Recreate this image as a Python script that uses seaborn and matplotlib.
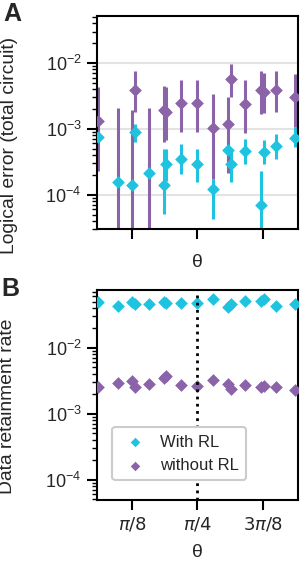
import numpy as np
import pandas as pd
import matplotlib
matplotlib.use("Agg")
import matplotlib.pyplot as plt
import seaborn as sns

# ---------------- data ----------------
theta = [0.193, 0.311, 0.394, 0.410, 0.499, 0.584, 0.596, 0.689, 0.785,
         0.878, 0.969, 0.983, 1.068, 1.164, 1.180, 1.255, 1.368]

# logical error, with RL (value, lower bound, upper bound)
err_rl = [7.5e-4, 1.56e-4, 1.39e-4, 8.95e-4, 2.13e-4, 1.39e-4, 2.9e-4, 3.5e-4, 2.9e-4,
          1.2e-4, 4.83e-4, 2.96e-4, 4.6e-4, 7.06e-5, 4.45e-4, 5.43e-4, 7.3e-4]
err_rl_lo = [5.2e-4, 1.1e-4, 1.0e-4, 6.3e-4, 1.5e-4, 5.1e-5, 1.6e-4, 2.05e-4, 1.55e-4,
             4.3e-5, 2.9e-4, 1.55e-4, 2.9e-4, 2.6e-5, 2.9e-4, 3.5e-4, 5.3e-4]
err_rl_hi = [1.05e-3, 2.2e-4, 1.9e-4, 1.2e-3, 2.9e-4, 5.0e-4, 5.0e-4, 5.8e-4, 5.0e-4,
             1.75e-4, 7.0e-4, 4.8e-4, 6.9e-4, 2.3e-4, 6.7e-4, 8.3e-4, 1.05e-3]

# logical error, without RL
err_norl = [1.31e-3, 0.0, 0.0, 3.85e-3, 0.0, 1.9e-3, 1.8e-3, 2.47e-3, 2.47e-3,
            1.04e-3, 1.2e-3, 5.8e-3, 2.42e-3, 3.94e-3, 3.63e-3, 3.94e-3, 3.05e-3]
err_norl_lo = [2.3e-4, 0.0, 0.0, 1.8e-3, 0.0, 6.3e-4, 6.7e-4, 9.0e-4, 9.0e-4,
               1.75e-4, 2.1e-4, 3.05e-3, 8.6e-4, 1.7e-3, 1.75e-3, 1.8e-3, 1.07e-3]
err_norl_hi = [4.3e-3, 2.1e-3, 1.91e-3, 7.6e-3, 2.1e-3, 4.4e-3, 4.3e-3, 5.5e-3, 5.5e-3,
               3.4e-3, 3.05e-3, 9.8e-3, 5.5e-3, 7.6e-3, 7.0e-3, 7.6e-3, 6.8e-3]

# data retainment rate
ret_rl = [0.0489, 0.0434, 0.050, 0.046, 0.046, 0.049, 0.048, 0.0475, 0.047,
          0.0555, 0.042, 0.046, 0.0518, 0.051, 0.054, 0.043, 0.046]
ret_norl = [2.56e-3, 2.87e-3, 3.15e-3, 2.5e-3, 2.8e-3, 3.42e-3, 3.76e-3, 2.7e-3, 2.66e-3,
            3.2e-3, 2.8e-3, 2.33e-3, 2.75e-3, 2.56e-3, 2.66e-3, 2.56e-3, 2.27e-3]

xtick_pos = [np.pi / 8, np.pi / 4, 3 * np.pi / 8]
xtick_labels = [r"$\pi/8$", r"$\pi/4$", r"$3\pi/8$"]
labels = ["With RL", "without RL"]

CYAN = "#1fc3e0"
PURPLE = "#8b63a8"

# ---------------- style ----------------
sns.set_style("ticks")
plt.rcParams["font.family"] = ["Liberation Sans", "DejaVu Sans"]
plt.rcParams["mathtext.fontset"] = "dejavusans"
plt.rcParams["axes.linewidth"] = 1.5
plt.rcParams["axes.edgecolor"] = "black"

fig = plt.figure(figsize=(3.0, 5.63), dpi=100)
axA = fig.add_axes([0.323, 0.593, 0.670, 0.378])
axB = fig.add_axes([0.323, 0.112, 0.670, 0.373])

xlim = (0.185, 1.385)
MS = 42

df = pd.DataFrame({"theta": theta,
                   "err_rl": err_rl, "err_norl": err_norl,
                   "ret_rl": ret_rl, "ret_norl": ret_norl})

# ---------- panel A ----------
v = np.array(err_rl); lo = np.array(err_rl_lo); hi = np.array(err_rl_hi)
axA.errorbar(theta, v, yerr=[v - lo, hi - v], fmt="none", ecolor=CYAN,
             elinewidth=2.2, capsize=0, zorder=2)
v2 = np.array(err_norl); lo2 = np.array(err_norl_lo); hi2 = np.array(err_norl_hi)
axA.errorbar(theta, v2, yerr=[v2 - lo2, hi2 - v2], fmt="none", ecolor=PURPLE,
             elinewidth=2.2, capsize=0, zorder=2.5)
sns.scatterplot(data=df, x="theta", y="err_rl", marker="D", color=CYAN, s=MS,
                linewidth=0, ax=axA, zorder=3)
sns.scatterplot(data=df[df["err_norl"] > 0], x="theta", y="err_norl", marker="D",
                color=PURPLE, s=MS, linewidth=0, ax=axA, zorder=3)
axA.set_yscale("log")
axA.set_ylim(3e-5, 5.1e-2)
axA.set_xlim(*xlim)
axA.set_xticks(xtick_pos)
axA.set_xticklabels([])
axA.set_xlabel("θ", fontsize=14, labelpad=7)
axA.set_ylabel("Logical error (total circuit)", fontsize=13.9)
axA.yaxis.set_label_coords(-0.395, 0.392)
axA.yaxis.grid(True, which="major", color="#e3e3e3", linewidth=1.5)
axA.set_axisbelow(True)

# ---------- panel B ----------
sns.scatterplot(data=df, x="theta", y="ret_rl", marker="D", color=CYAN, s=MS,
                linewidth=0, ax=axB, zorder=3, label=labels[0])
sns.scatterplot(data=df, x="theta", y="ret_norl", marker="D", color=PURPLE, s=MS,
                linewidth=0, ax=axB, zorder=3, label=labels[1])
axB.axvline(np.pi / 4, color="black", linestyle=(0, (1, 1.6)), linewidth=2.0, zorder=4)
axB.set_yscale("log")
axB.set_ylim(4.9e-5, 7.5e-2)
axB.set_xlim(*xlim)
axB.set_xticks(xtick_pos)
axB.set_xticklabels(xtick_labels)
axB.set_xlabel("θ", fontsize=14, labelpad=8)
axB.set_ylabel("Data retainment rate", fontsize=13.9)
axB.yaxis.set_label_coords(-0.40, 0.445)
leg = axB.legend(loc="center", bbox_to_anchor=(0.41, 0.22), fontsize=12,
                 frameon=True, fancybox=True, edgecolor="#cccccc", framealpha=1,
                 handletextpad=0.6, borderpad=0.45, markerscale=0.75,
                 handlelength=1.8)
leg.get_frame().set_linewidth(1.5)

for ax in (axA, axB):
    for s in ax.spines.values():
        s.set_visible(True)
        s.set_linewidth(1.5)
    ax.tick_params(axis="both", which="major", length=7, width=1.5,
                   labelsize=13, direction="out", color="black", pad=4)
    ax.tick_params(axis="y", which="minor", length=3.5, width=1.0, color="black")
    ax.tick_params(axis="x", which="minor", length=0)

fig.text(0.01, 0.997, "A", fontsize=18, fontweight="bold", va="top", ha="left")
fig.text(0.005, 0.508, "B", fontsize=18, fontweight="bold", va="top", ha="left")

fig.savefig("out.png", dpi=100)
